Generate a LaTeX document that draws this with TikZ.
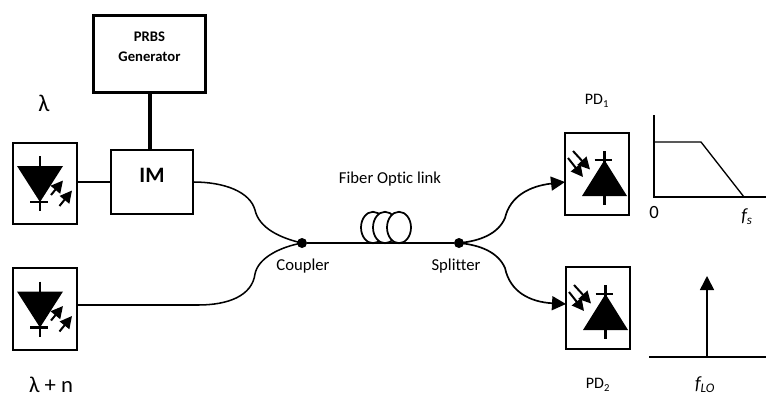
\documentclass[tikz,border=0pt]{standalone}
\usepackage{fontspec}
\setmainfont[Ligatures=NoCommon]{Carlito}
\usetikzlibrary{arrows.meta,calc}
\tikzset{
  x=0.75pt,y=-0.75pt,
  devbox/.style={draw,line width=1.7pt,minimum width=48pt,minimum height=61pt,inner sep=0pt,outer sep=0pt},
  imbox/.style={draw,line width=1.5pt,inner sep=0pt,outer sep=0pt,font=\bfseries\fontsize{16.5}{18}\selectfont},
  fiber/.style={line width=1.15pt},
  txt/.style={inner sep=0pt,font=\fontsize{12.5}{15}\selectfont,align=center},
  joint/.style={circle,fill=black,minimum size=7.5pt,inner sep=0pt,outer sep=0pt},
  lighttip/.style={-{Triangle[length=9pt,width=9pt]},line width=1.5pt},
  bigtip/.style={-{Triangle[length=10.5pt,width=10.5pt]}},
  axisline/.style={line width=1pt},
  laser/.pic={
    \fill (-28,-17.5) -- (18,-17.5) -- (-5,18.5) -- cycle;
    \draw[line width=1.7pt] (-5,-27.5) -- (-5,27.5);
    \draw[line width=1.7pt] (-15,18.5) -- (3,18.5);
    \draw[lighttip] (6,11.5) -- (18,-3);
    \draw[lighttip] (14.5,22.5) -- (27,7);
  },
  detector/.pic={
    \fill (-15,22) -- (30,22) -- (7.5,-14) -- cycle;
    \draw[line width=1.7pt] (7.5,-23) -- (7.5,31);
    \draw[line width=1.7pt] (-2.5,-14) -- (15,-14);
    \draw[lighttip] (-24,-23) -- (-7,-4.5);
    \draw[lighttip] (-29,-16) -- (-14,3);
  }
}
\begin{document}
\begin{tikzpicture}
\useasboundingbox (0,0) rectangle (766,397);
\node[imbox,minimum width=84pt,minimum height=58pt,line width=1.8pt,font=\bfseries\fontsize{11}{15.7}\selectfont,align=center] (prbs) at (149.5,54) {PRBS\\Generator\\[-4.7pt]\mbox{}};
\node[imbox,minimum width=61.5pt,minimum height=48pt] (im) at (152,182) {\raisebox{0pt}[0pt][0pt]{IM}};
\node[devbox] (l1) at (45,183.5) {};
\node[devbox] (l2) at (45,309) {};
\node[devbox] (pd1) at (597,174) {};
\node[devbox] (pd2) at (598,308) {};
\pic at (l1) {laser};
\pic at (l2) {laser};
\pic at (pd1) {detector};
\pic at (pd2) {detector};
\node[joint] (cp) at (302,243) {};
\node[joint] (sp) at (459,243) {};
\draw[line width=2.8pt] (prbs.south -| 150,0) -- (im.north -| 150,0);
\draw[line width=1.1pt] (im.west |- 0,182) -- (l1.east |- 0,182);
\draw[fiber] (im.east |- 0,182) .. controls (225,182) and (250,192) .. (255,210)
  .. controls (259,228) and (280,238) .. (cp.center);
\draw[fiber] (l2.east |- 0,305) -- (198,305) .. controls (228,305) and (252,296) .. (255,274)
  .. controls (258,258) and (280,247) .. (cp.center);
\foreach \cx in {373,385,399}
  \draw[line width=1.3pt,fill=white] (\cx,227.5) ellipse [x radius=12,y radius=15.7];
\draw[line width=1.6pt] (cp) -- (sp);
\draw[bigtip,line width=1.25pt] (sp.center) .. controls (480,241) and (498,234) .. (505,218)
  .. controls (510,196) and (530,186) .. ([yshift=-6pt]pd1.west);
\draw[bigtip,line width=1.25pt] (sp.center) .. controls (480,245) and (498,252) .. (505,268)
  .. controls (510,292) and (530,302) .. ([yshift=3pt]pd2.west);
\node[txt,font=\fontsize{18}{20}\selectfont] (lam) at (44,103) {λ};
\node[txt,font=\fontsize{17}{17}\selectfont] (lamn) at (51,385) {λ + n};
\node[txt] (fol) at (390,179) {Fiber Optic link};
\node[txt] (cpl) at (303,266) {Coupler};
\node[txt] (spl) at (456,266) {Splitter};
\node[txt,font=\fontsize{12}{14}\selectfont] (pdo) at (597,101) {PD\textsubscript{1}};
\node[txt,font=\fontsize{12}{14}\selectfont] (pdt) at (598,385) {PD\textsubscript{2}};
\draw[axisline] (654,115) -- (654,197) -- (766,197);
\draw[axisline] (654,142) -- (701,142) -- (744,197);
\node[txt,font=\fontsize{14}{16}\selectfont] (zero) at (654,213) {0};
\node[txt,font=\fontsize{14}{16}\selectfont] (fs) at (747,217) {\textit{f\textsubscript{s}}};
\draw[axisline] (649,357) -- (766,357);
\draw[bigtip,line width=1.2pt] (707,357) -- (707,276);
\node[txt,font=\fontsize{14}{16}\selectfont] (flo) at (705,385) {\textit{f\textsubscript{LO}}};
\end{tikzpicture}
\end{document}
